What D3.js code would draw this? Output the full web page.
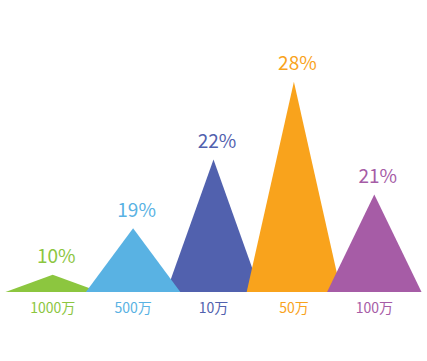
<!DOCTYPE html>
<html>
<head>
<meta charset="utf-8">
<script src="https://cdn.jsdelivr.net/npm/d3@7"></script>
<style>
  html, body { margin: 0; padding: 0; background: #ffffff; }
  svg { display: block; }
</style>
</head>
<body>
<svg id="chart" width="427" height="361"></svg>
<script>
// ---- data ----
const categories = ["1000万", "500万", "10万", "50万", "100万"];
const heights = [7.5, 27.7, 57.6, 91.4, 42.4];          // bar height values (axis units)
const percentLabels = [10, 19, 22, 28, 21];               // shown labels (%)
const colors = ["#8cc63f", "#59b2e3", "#5161ae", "#f9a31c", "#a65ca6"];
const drawOrder = ["1000万", "10万", "500万", "50万", "100万"];

// ---- layout ----
const W = 427, H = 361;
const margin = { left: 12.5, right: 12.5, baseline: 292, top: 62 };

const svg = d3.select("#chart");

const x = d3.scaleBand()
  .domain(categories)
  .range([margin.left, W - margin.right])
  .paddingInner(0).paddingOuter(0);

const y = d3.scaleLinear()
  .domain([0, 100])
  .range([margin.baseline, margin.top]);

const data = categories.map((c, i) => ({
  cat: c, h: heights[i], label: percentLabels[i], color: colors[i]
}));
const ordered = drawOrder.map(c => data.find(d => d.cat === c));

const halfW = x.step() * 1.175 / 2;

svg.append("g").selectAll("path")
  .data(ordered)
  .join("path")
  .attr("d", d => {
    const cx = x(d.cat) + x.bandwidth() / 2;
    const p = d3.path();
    p.moveTo(cx - halfW, y(0));
    p.lineTo(cx, y(d.h));
    p.lineTo(cx + halfW, y(0));
    p.closePath();
    return p.toString();
  })
  .attr("fill", d => d.color);

// value labels
svg.append("g").selectAll("text")
  .data(data)
  .join("text")
  .attr("x", d => x(d.cat) + x.bandwidth() / 2 + 3.5)
  .attr("y", d => y(d.h) - 11.5)
  .attr("text-anchor", "middle")
  .attr("font-family", "'Noto Sans CJK SC', 'Open Sans', sans-serif")
  .attr("font-size", 19)
  .attr("fill", d => d.color)
  .text(d => d.label + "%");

// category axis labels
const xAxis = d3.axisBottom(x).tickSize(0).tickPadding(0);
const gx = svg.append("g")
  .attr("transform", `translate(0, ${margin.baseline})`)
  .call(xAxis);
gx.select(".domain").remove();
gx.selectAll(".tick text")
  .attr("dy", null)
  .attr("y", 20.5)
  .attr("font-family", "'Noto Sans CJK SC', sans-serif")
  .attr("font-size", 14)
  .attr("fill", (d, i) => colors[i]);
</script>
</body>
</html>
